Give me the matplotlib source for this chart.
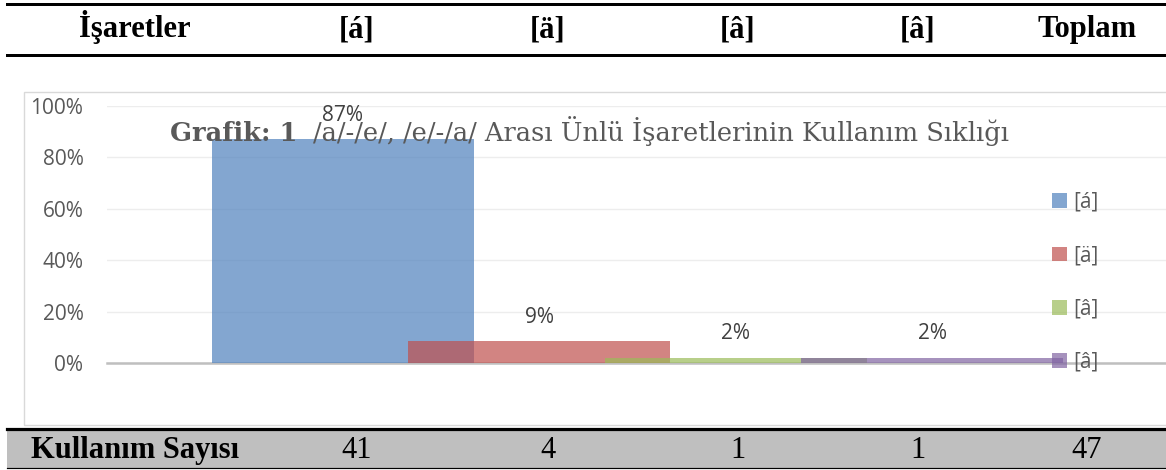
import numpy as np
import matplotlib
matplotlib.use("Agg")
import matplotlib.pyplot as plt
import matplotlib.patches as mpatches
from matplotlib.lines import Line2D

W, H = 1166, 470

# table / chart data
signs = ["[á]", "[ä]", "[â]", "[â]"]
counts = [41, 4, 1, 1]
head_first = "İşaretler"
head_last = "Toplam"
foot_first = "Kullanım Sayısı"
title_bold = "Grafik: 1"
title_rest = "/a/-/e/, /e/-/a/ Arası Ünlü İşaretlerinin Kullanım Sıklığı"

COLORS = ["#4F81BD", "#C0504D", "#9BBB59", "#8064A2"]
ALPHA = 0.7
COL_X = [135, 357, 548, 738, 918, 1087]

total = sum(counts)
shares = [c / total for c in counts]

plt.rcParams["font.family"] = ["Open Sans", "DejaVu Sans"]

fig = plt.figure(figsize=(W / 100, H / 100), dpi=100)


def fx(x):
    return x / W


def fy(y):
    return 1 - y / H


# footer background
fig.add_artist(mpatches.Rectangle((fx(7), fy(468)), 1 - fx(7), (468 - 430) / H,
                                  transform=fig.transFigure, facecolor="#BFBFBF",
                                  edgecolor="none", zorder=0))
# table rules
for y, lw in [(4, 3), (55, 3), (429, 3.2), (468, 1.2)]:
    fig.add_artist(Line2D([fx(7), 1], [fy(y), fy(y)], color="black",
                          lw=lw * 0.72, zorder=1))

# chart frame
fig.add_artist(mpatches.Rectangle((fx(24), fy(425)), 1.2, (425 - 92) / H,
                                  transform=fig.transFigure, fill=False,
                                  edgecolor="#D9D9D9", lw=1.0, zorder=0))

# header / footer rows
header = [head_first] + signs + [head_last]
footer = [foot_first] + [str(c) for c in counts] + [str(total)]
for i, (x, h, f) in enumerate(zip(COL_X, header, footer)):
    fig.text(fx(x), fy(37), h, ha="center", va="baseline", fontsize=22,
             family="Liberation Serif", fontweight="bold", color="black")
    fig.text(fx(x), fy(458), f, ha="center", va="baseline", fontsize=22,
             family="Liberation Serif", fontweight="bold" if i == 0 else "normal",
             color="black")

# chart
ax = fig.add_axes([fx(107), fy(363), (1168 - 107) / W, 257 / H])
ax.patch.set_alpha(0)

pos = (np.arange(len(signs)) - 1.5) * 0.75
for i in range(len(signs)):
    ax.bar(pos[i], shares[i], width=1.0, color=COLORS[i], alpha=ALPHA,
           linewidth=0, zorder=3)
    ax.annotate(f"{shares[i] * 100:.0f}%", (pos[i], shares[i]), xytext=(0, 17),
                textcoords="offset points", ha="center", va="center",
                fontsize=15, color="#404040", zorder=4)

ax.set_xlim(-2.025, 2.025)
ax.set_ylim(0, 1)
ticks = np.arange(0, 1.01, 0.2)
ax.set_yticks(ticks)
ax.set_yticklabels([f"{t * 100:.0f}%" for t in ticks])
ax.set_xticks([])
ax.yaxis.grid(True, color="#EDEDED", lw=1.0)
ax.set_axisbelow(True)
ax.tick_params(axis="y", length=0, pad=17, labelsize=15, labelcolor="#595959")
for s in ["top", "left", "right"]:
    ax.spines[s].set_visible(False)
ax.spines["bottom"].set_color("#BFBFBF")
ax.spines["bottom"].set_linewidth(1.8)

handles = [mpatches.Patch(facecolor=COLORS[i], alpha=ALPHA, label=signs[i])
           for i in range(len(signs))]
leg = ax.legend(handles=handles, loc="upper left", bbox_to_anchor=(fx(1052), fy(192)),
                bbox_transform=fig.transFigure, frameon=False, fontsize=15,
                handlelength=0.7, handleheight=0.7, handletextpad=0.3,
                labelspacing=1.55, borderpad=0, borderaxespad=0, labelcolor="#595959")
leg.set_zorder(5)

# chart title
fig.text(fx(170), fy(141), title_bold, ha="left", va="baseline", fontsize=18.5,
         family="DejaVu Serif", fontweight="bold", color="#595959", zorder=6)
fig.text(fx(313), fy(141), title_rest, ha="left", va="baseline", fontsize=18.5,
         family="DejaVu Serif", color="#595959", zorder=6)

fig.savefig("out.png", dpi=100)
